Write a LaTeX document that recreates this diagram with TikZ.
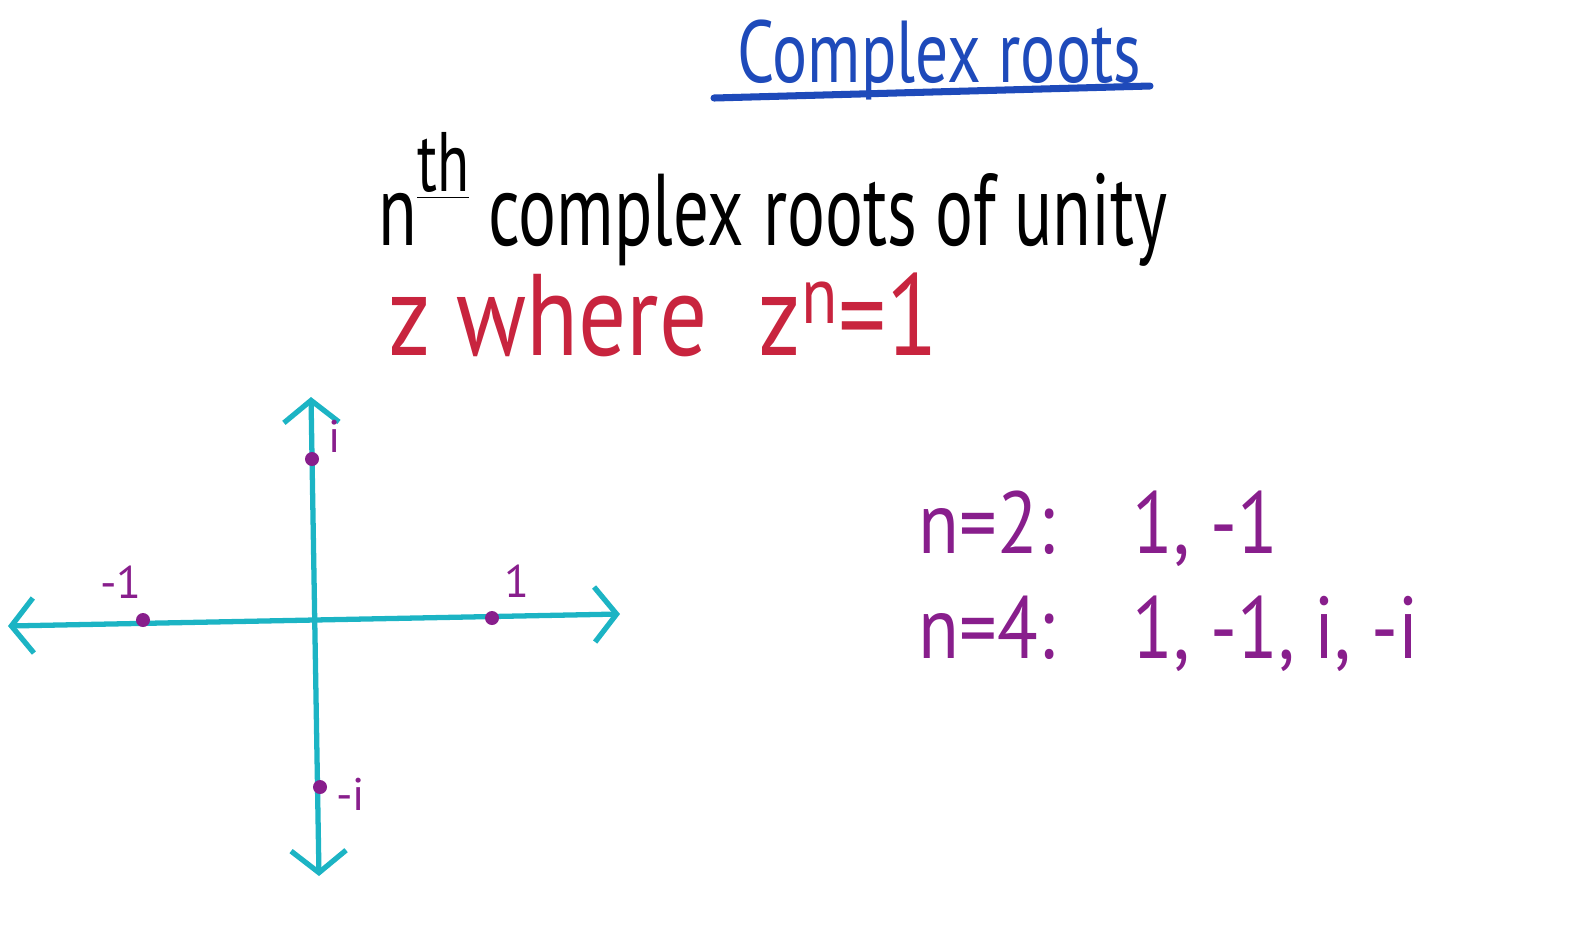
\documentclass[tikz,border=0pt]{standalone}
\usepackage{fontspec}
\setmainfont{PT Sans}
\usetikzlibrary{arrows.meta, positioning, calc}

\definecolor{inkblue}{RGB}{30,74,186}
\definecolor{inkred}{RGB}{200,36,62}
\definecolor{inkteal}{RGB}{28,180,196}
\definecolor{inkpurple}{RGB}{136,30,140}

\begin{document}
\begin{tikzpicture}[x=0.01cm, y=-0.01cm,
  hand/.style={inner sep=0pt, anchor=base west},
  axis/.style={line width=1.5pt, inkteal, line cap=round,
    {Straight Barb[length=2.2mm, width=5.5mm, line width=1.5pt]}-{Straight Barb[length=2.2mm, width=5.5mm, line width=1.5pt]}},
  root/.style={circle, fill=inkpurple, inner sep=0pt, minimum size=0.14cm},
  rootlabel/.style={text=inkpurple, inner sep=0pt, font=\fontsize{13}{15}\selectfont}
]
\useasboundingbox (0,0) rectangle (1582,944);

% heading
\node[hand, text=inkblue, font=\fontsize{25}{28}\selectfont] (title) at (737,82)
  {\scalebox{0.745}[1]{Complex roots}};
\coordinate (ul-l) at (714,98);
\coordinate (ul-r) at (1150,86);
\draw[inkblue, line width=2pt, line cap=round] (ul-l) -- (ul-r);

% definition
\node[hand, font=\fontsize{29}{32}\selectfont] (nth) at (378,245)
  {\scalebox{0.695}[1]{n\raisebox{1.05ex}{\fontsize{24}{26}\selectfont\underline{th}}\ complex roots of unity}};
\node[hand, text=inkred, font=\fontsize{33}{36}\selectfont] (cond) at (388,355)
  {\scalebox{0.82}[1]{z where\ \ z\textsuperscript{n}=1}};

% complex plane
\coordinate (west)  at (8,626);
\coordinate (east)  at (620,614);
\coordinate (north) at (311,397);
\coordinate (south) at (319,876);
\draw[axis] (west) -- (east);
\draw[axis] (north) -- (south);

\node[root] (m1) at (143,620) {};
\node[root] (p1) at (492,618) {};
\node[root] (pi) at (312,459) {};
\node[root] (mi) at (320,787) {};

\node[rootlabel, above left=0.15cm and -0.05cm of m1] (m1-lab) {-1};
\node[rootlabel, above right=0.14cm and 0.06cm of p1] (p1-lab) {1};
\node[rootlabel, above right=0cm and 0.1cm of pi] (pi-lab) {i};
\node[rootlabel, below right=-0.15cm and 0.1cm of mi] (mi-lab) {-i};

% the roots for n = 2 and n = 4
\node[hand, text=inkpurple, font=\fontsize{25}{28}\selectfont] (case2) at (918,553)
  {\scalebox{0.85}[1]{n=2:\hspace{1.05em}1, -1}};
\node[hand, text=inkpurple, font=\fontsize{25}{28}\selectfont] (case4) at (918,658)
  {\scalebox{0.85}[1]{n=4:\hspace{1.05em}1, -1, i, -i}};
\end{tikzpicture}
\end{document}
